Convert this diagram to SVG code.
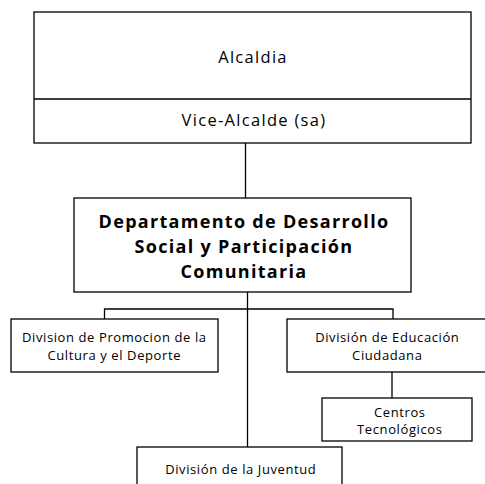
<svg xmlns="http://www.w3.org/2000/svg" width="485" height="484" viewBox="0 0 485 484">
<style>
.box{fill:#fff;stroke:#000;stroke-width:1.3}
.ln{fill:none;stroke:#000;stroke-width:1.3}
text{font-family:"Open Sans","DejaVu Sans",sans-serif;fill:#000;text-anchor:middle}
.t1{font-size:16.5px;letter-spacing:1.3px}
.tb{font-size:18px;font-weight:bold;letter-spacing:1.3px}
.ts{font-size:13px;letter-spacing:0.6px}
</style>
<rect width="485" height="484" fill="#fff"/>
<g id="connectors">
<path class="ln" d="M245.5,143 V198"/>
<path class="ln" d="M247.5,292 V447"/>
<path class="ln" d="M104.5,319 V309 H393 V319"/>
<path class="ln" d="M392,372 V398"/>
</g>
<g id="alcaldia">
<rect class="box" x="34" y="12" width="437" height="131"/>
<line class="ln" x1="34" y1="99" x2="471" y2="99"/>
<text class="t1" x="253" y="62.5">Alcaldia</text>
<text class="t1" x="254" y="126">Vice-Alcalde (sa)</text>
</g>
<g id="departamento">
<rect class="box" x="74" y="198" width="337" height="94"/>
<text class="tb" x="244" y="228">Departamento de Desarrollo</text>
<text class="tb" x="244" y="253">Social y Participación</text>
<text class="tb" x="244" y="278">Comunitaria</text>
</g>
<g id="promocion">
<rect class="box" x="11" y="319" width="207" height="53"/>
<text class="ts" x="114.3" y="342">Division de Promocion de la</text>
<text class="ts" x="114.3" y="360">Cultura y el Deporte</text>
</g>
<g id="educacion">
<rect class="box" x="287" y="319" width="200" height="53"/>
<text class="ts" x="387.3" y="342">División de Educación</text>
<text class="ts" x="387.3" y="360">Ciudadana</text>
</g>
<g id="centros">
<rect class="box" x="322" y="398" width="150" height="43"/>
<text class="ts" x="399.8" y="417">Centros</text>
<text class="ts" x="399.8" y="434">Tecnológicos</text>
</g>
<g id="juventud">
<rect class="box" x="137" y="447" width="205" height="45"/>
<text class="ts" x="240.8" y="474">División de la Juventud</text>
</g>
</svg>
